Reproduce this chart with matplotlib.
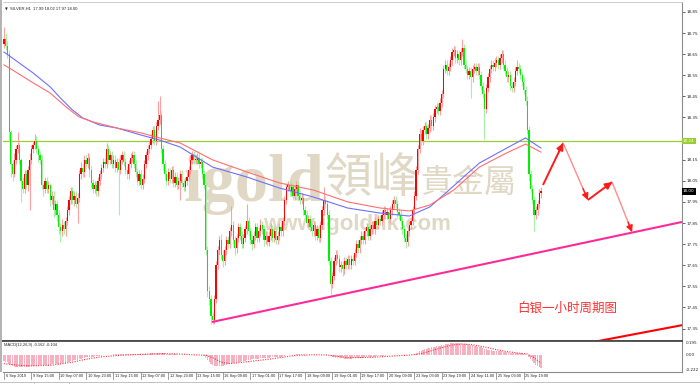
import numpy as np
import matplotlib
matplotlib.use("Agg")
import matplotlib.pyplot as plt
from matplotlib.transforms import blended_transform_factory, offset_copy
from matplotlib.patches import Rectangle
from matplotlib.lines import Line2D

# ---------------- data ----------------
header = "SILVER,H1  17.99 18.02 17.97 18.00"
macd_title = "MACD(12,26,9) -0.162 -0.104"
caption = "白银一小时周期图"

first_open = 18.70
closes = [
    18.72, 18.69, 18.65, 18.28, 18.13, 18.08, 18.15, 18.20, 18.22, 18.15, 18.05, 18.01, 18.08, 18.03, 18.10, 18.15,
    18.20, 18.22, 18.24, 18.20, 18.17, 18.15, 18.03, 18.01, 18.05, 18.01, 18.03, 17.96, 17.98, 17.91, 17.94, 17.89,
    17.83, 17.81, 17.84, 17.82, 17.86, 17.91, 17.96, 18.00, 17.96, 17.98, 17.94, 17.97, 18.08, 18.11, 18.09, 18.15,
    18.13, 18.16, 18.10, 18.04, 18.01, 18.03, 18.00, 18.05, 18.08, 18.11, 18.14, 18.13, 18.20, 18.15, 18.17, 18.13,
    18.15, 18.11, 18.14, 18.10, 18.15, 18.17, 18.14, 18.10, 18.08, 18.13, 18.16, 18.17, 18.13, 18.09, 18.05, 18.08,
    18.03, 18.06, 18.13, 18.17, 18.20, 18.22, 18.25, 18.29, 18.24, 18.31, 18.34, 18.36, 18.20, 18.13, 18.08, 18.05,
    18.09, 18.06, 18.10, 18.04, 18.07, 18.03, 18.05, 18.08, 18.04, 18.02, 18.05, 18.07, 18.10, 18.15, 18.17, 18.15,
    18.15, 18.16, 18.13, 18.14, 18.08, 18.03, 17.72, 17.53, 17.49, 17.41, 17.39, 17.49, 17.65, 17.72, 17.77, 17.70,
    17.67, 17.72, 17.77, 17.75, 17.81, 17.84, 17.77, 17.73, 17.78, 17.83, 17.79, 17.75, 17.78, 17.82, 17.86, 17.81,
    17.77, 17.75, 17.79, 17.83, 17.78, 17.81, 17.84, 17.82, 17.77, 17.79, 17.76, 17.79, 17.82, 17.78, 17.81, 17.77,
    17.79, 17.83, 17.81, 17.86, 17.96, 18.02, 18.03, 18.00, 18.02, 17.98, 18.01, 18.03, 17.98, 17.96, 17.97, 17.91,
    17.89, 17.85, 17.87, 17.83, 17.81, 17.84, 17.79, 17.82, 17.78, 17.84, 17.91, 17.96, 17.94, 17.89, 17.67, 17.56,
    17.60, 17.67, 17.70, 17.68, 17.64, 17.65, 17.63, 17.67, 17.65, 17.68, 17.65, 17.68, 17.67, 17.71, 17.75, 17.73,
    17.77, 17.79, 17.77, 17.81, 17.83, 17.79, 17.82, 17.84, 17.82, 17.86, 17.84, 17.87, 17.86, 17.89, 17.91, 17.89,
    17.90, 17.87, 17.91, 17.94, 17.96, 17.94, 17.90, 17.89, 17.86, 17.82, 17.78, 17.76, 17.81, 17.84, 17.86, 17.91,
    17.98, 18.10, 18.20, 18.27, 18.24, 18.29, 18.31, 18.27, 18.30, 18.34, 18.31, 18.35, 18.39, 18.40, 18.38, 18.42,
    18.46, 18.58, 18.60, 18.57, 18.59, 18.62, 18.66, 18.67, 18.63, 18.65, 18.62, 18.66, 18.68, 18.60, 18.58, 18.55,
    18.57, 18.54, 18.58, 18.59, 18.57, 18.59, 18.55, 18.50, 18.46, 18.39, 18.49, 18.54, 18.58, 18.60, 18.59, 18.61,
    18.62, 18.60, 18.63, 18.65, 18.60, 18.57, 18.54, 18.55, 18.50, 18.49, 18.52, 18.57, 18.59, 18.58, 18.55, 18.52,
    18.48, 18.43, 18.29, 18.08, 18.01, 17.96, 17.89, 17.91, 17.94, 17.99, 18.00,
]

# upper / lower shadow lengths, in cents
wick_up = [
    6, 3, 2, 2, 1, 2, 3, 2, 6, 1, 1, 2, 2, 2, 2, 3,
    2, 2, 3, 2, 2, 2, 2, 1, 2, 2, 2, 1, 2, 2, 2, 2,
    2, 2, 3, 2, 2, 2, 2, 2, 2, 2, 2, 2, 2, 3, 2, 2,
    2, 2, 2, 2, 2, 2, 2, 2, 2, 2, 2, 2, 3, 2, 2, 2,
    2, 2, 2, 2, 2, 2, 2, 2, 2, 2, 2, 2, 2, 2, 2, 2,
    2, 2, 2, 2, 2, 2, 2, 2, 2, 2, 9, 9, 2, 2, 2, 2,
    2, 2, 2, 2, 2, 2, 2, 2, 2, 2, 2, 2, 2, 2, 2, 2,
    2, 2, 2, 2, 2, 2, 1, 2, 2, 2, 2, 2, 2, 2, 2, 3,
    2, 2, 2, 2, 2, 9, 2, 2, 2, 2, 2, 2, 2, 2, 8, 2,
    2, 3, 2, 2, 2, 2, 3, 2, 2, 2, 2, 2, 3, 2, 2, 2,
    2, 2, 2, 2, 2, 2, 2, 2, 2, 2, 2, 2, 2, 2, 2, 2,
    2, 2, 2, 2, 2, 2, 2, 2, 2, 2, 2, 6, 2, 2, 2, 2,
    2, 2, 2, 2, 2, 2, 2, 2, 2, 2, 2, 2, 2, 2, 2, 2,
    2, 2, 2, 2, 2, 2, 2, 2, 2, 2, 2, 2, 2, 2, 2, 2,
    2, 2, 2, 2, 2, 2, 2, 2, 2, 2, 2, 2, 2, 2, 2, 2,
    2, 2, 2, 3, 2, 2, 2, 2, 2, 2, 2, 2, 2, 2, 2, 2,
    2, 2, 2, 2, 2, 2, 2, 2, 2, 2, 2, 2, 4, 2, 2, 2,
    2, 2, 2, 2, 2, 2, 2, 2, 2, 2, 2, 2, 2, 2, 2, 2,
    2, 2, 2, 2, 2, 2, 2, 2, 2, 2, 2, 2, 3, 2, 2, 2,
    2, 2, 2, 2, 2, 2, 2, 2, 2, 2, 2,
]
wick_dn = [
    2, 2, 2, 4, 6, 3, 1, 2, 2, 2, 10, 2, 2, 2, 3, 19,
    2, 2, 2, 2, 3, 2, 2, 3, 2, 2, 2, 3, 2, 3, 2, 3,
    3, 5, 2, 2, 3, 2, 2, 2, 2, 3, 2, 9, 2, 2, 2, 2,
    2, 2, 3, 2, 2, 2, 2, 2, 2, 2, 2, 2, 2, 2, 2, 2,
    2, 2, 2, 21, 2, 2, 2, 2, 2, 2, 2, 2, 2, 2, 2, 2,
    2, 2, 2, 2, 2, 2, 2, 2, 2, 2, 2, 2, 2, 3, 2, 2,
    2, 2, 2, 2, 2, 2, 2, 9, 2, 2, 2, 2, 2, 2, 2, 2,
    2, 2, 2, 2, 2, 2, 2, 3, 3, 4, 2, 2, 2, 2, 2, 2,
    3, 2, 2, 2, 2, 2, 2, 3, 2, 2, 2, 2, 2, 2, 2, 2,
    2, 3, 2, 2, 2, 2, 2, 2, 3, 2, 2, 2, 2, 2, 2, 2,
    2, 2, 2, 2, 2, 2, 2, 2, 2, 2, 2, 2, 2, 2, 2, 2,
    2, 2, 2, 2, 2, 2, 2, 2, 2, 2, 2, 2, 2, 2, 2, 6,
    2, 2, 2, 2, 2, 2, 3, 2, 2, 2, 2, 2, 2, 2, 2, 2,
    2, 2, 2, 2, 2, 2, 2, 2, 2, 2, 2, 2, 2, 2, 2, 2,
    2, 2, 2, 2, 2, 2, 2, 2, 2, 2, 2, 3, 2, 2, 2, 2,
    2, 2, 2, 2, 2, 2, 2, 2, 2, 2, 2, 2, 2, 2, 2, 2,
    2, 2, 2, 2, 2, 2, 2, 2, 2, 2, 2, 2, 2, 2, 2, 2,
    2, 10, 2, 2, 2, 2, 2, 2, 2, 14, 2, 2, 2, 2, 2, 2,
    2, 2, 2, 2, 2, 2, 2, 2, 2, 2, 2, 2, 2, 2, 2, 2,
    2, 2, 2, 3, 2, 2, 8, 2, 2, 2, 2,
]

# moving averages (bar index, price)
ma_blue_bars = [0, 17, 27, 33, 40, 46, 56, 66, 80, 91, 103, 122, 142, 161, 181, 201, 220, 237, 249, 259, 270, 278, 294, 305, 314]
ma_blue = [18.660, 18.561, 18.495, 18.442, 18.386, 18.348, 18.314, 18.300, 18.267, 18.243, 18.210, 18.115, 18.068,
           18.016, 17.973, 17.921, 17.897, 17.883, 17.926, 17.997, 18.077, 18.134, 18.205, 18.253, 18.205]
ma_red_bars = [0, 5, 17, 27, 37, 44, 52, 66, 80, 91, 103, 122, 142, 161, 181, 201, 220, 237, 249, 263, 278, 294, 305, 314]
ma_red = [18.599, 18.575, 18.514, 18.466, 18.395, 18.352, 18.329, 18.300, 18.277, 18.253, 18.229, 18.149, 18.092,
          18.040, 18.006, 17.950, 17.921, 17.907, 17.935, 18.006, 18.115, 18.182, 18.224, 18.186]

# MACD histogram per bar and signal line (bar index, value)
macd_hist = [
    -0.08, -0.085, -0.09, -0.11, -0.13, -0.145, -0.15, -0.152, -0.155, -0.155, -0.158, -0.16, -0.16, -0.158, -0.155, -0.152,
    -0.148, -0.142, -0.138, -0.135, -0.132, -0.13, -0.132, -0.133, -0.13, -0.128, -0.125, -0.122, -0.12, -0.118, -0.115, -0.112,
    -0.11, -0.108, -0.105, -0.1, -0.095, -0.09, -0.085, -0.078, -0.072, -0.066, -0.06, -0.055, -0.048, -0.042, -0.036, -0.03,
    -0.025, -0.02, -0.018, -0.016, -0.015, -0.013, -0.01, -0.008, -0.005, -0.002, 0.0, 0.003, 0.006, 0.008, 0.01, 0.012,
    0.014, 0.015, 0.016, 0.017, 0.018, 0.019, 0.02, 0.02, 0.021, 0.021, 0.022, 0.022, 0.021, 0.02, 0.02, 0.019,
    0.018, 0.018, 0.02, 0.022, 0.024, 0.026, 0.028, 0.03, 0.032, 0.033, 0.034, 0.035, 0.033, 0.03, 0.028, 0.026,
    0.024, 0.022, 0.02, 0.018, 0.016, 0.014, 0.012, 0.01, 0.008, 0.006, 0.005, 0.004, 0.004, 0.005, 0.006, 0.006,
    0.006, 0.006, 0.005, 0.004, 0.002, -0.002, -0.03, -0.06, -0.085, -0.11, -0.13, -0.14, -0.145, -0.145, -0.142, -0.14,
    -0.135, -0.13, -0.125, -0.12, -0.114, -0.108, -0.103, -0.098, -0.093, -0.088, -0.083, -0.078, -0.073, -0.068, -0.064, -0.06,
    -0.056, -0.053, -0.05, -0.047, -0.044, -0.041, -0.038, -0.036, -0.034, -0.032, -0.03, -0.028, -0.026, -0.024, -0.022, -0.02,
    -0.018, -0.016, -0.014, -0.01, -0.005, 0.0, 0.004, 0.007, 0.009, 0.011, 0.013, 0.014, 0.015, 0.015, 0.015, 0.014,
    0.013, 0.012, 0.011, 0.01, 0.009, 0.008, 0.007, 0.006, 0.005, 0.005, 0.006, 0.008, 0.009, 0.009, 0.0, -0.012,
    -0.02, -0.026, -0.03, -0.033, -0.036, -0.038, -0.04, -0.041, -0.042, -0.042, -0.042, -0.041, -0.04, -0.038, -0.036, -0.034,
    -0.032, -0.03, -0.028, -0.026, -0.024, -0.022, -0.02, -0.018, -0.016, -0.014, -0.012, -0.01, -0.008, -0.006, -0.004, -0.002,
    0.0, 0.002, 0.004, 0.006, 0.008, 0.009, 0.01, 0.01, 0.009, 0.007, 0.004, 0.002, 0.003, 0.005, 0.007, 0.01,
    0.015, 0.025, 0.04, 0.055, 0.065, 0.075, 0.085, 0.092, 0.1, 0.106, 0.11, 0.115, 0.12, 0.123, 0.126, 0.13,
    0.135, 0.142, 0.148, 0.153, 0.158, 0.162, 0.166, 0.168, 0.168, 0.167, 0.165, 0.163, 0.161, 0.158, 0.154, 0.149,
    0.144, 0.14, 0.135, 0.13, 0.125, 0.12, 0.115, 0.108, 0.1, 0.092, 0.085, 0.08, 0.075, 0.07, 0.066, 0.063,
    0.06, 0.058, 0.056, 0.055, 0.053, 0.05, 0.047, 0.044, 0.04, 0.037, 0.035, 0.034, 0.033, 0.032, 0.03, 0.028,
    0.025, 0.02, 0.005, -0.02, -0.05, -0.08, -0.105, -0.125, -0.14, -0.152, -0.162,
]
signal_bars = [0, 8, 16, 28, 40, 48, 56, 66, 80, 92, 103, 112, 118, 122, 127, 132, 140, 155, 170, 181, 188, 195,
               201, 215, 225, 237, 245, 255, 262, 268, 274, 282, 292, 300, 306, 310, 314]
signal_vals = [-0.11, -0.13, -0.14, -0.13, -0.09, -0.05, -0.02, 0.0, 0.015, 0.025, 0.02, 0.008, 0.004, -0.03, -0.09,
               -0.11, -0.09, -0.05, 0.0, 0.01, 0.008, -0.01, -0.03, -0.025, -0.01, 0.005, 0.03, 0.1, 0.14, 0.155,
               0.145, 0.11, 0.06, 0.035, 0.02, -0.03, -0.104]

time_labels = ["6 Sep 2019", "9 Sep 15:00", "10 Sep 07:00", "10 Sep 23:00", "11 Sep 15:00", "12 Sep 07:00",
               "12 Sep 23:00", "13 Sep 15:00", "16 Sep 09:00", "17 Sep 01:00", "17 Sep 17:00", "18 Sep 09:00",
               "19 Sep 01:00", "19 Sep 17:00", "20 Sep 09:00", "23 Sep 03:00", "23 Sep 19:00", "24 Sep 11:00",
               "25 Sep 03:00", "25 Sep 19:00"]
bars_per_label = 16

price_ticks = [18.85, 18.75, 18.65, 18.55, 18.45, 18.35, 18.15, 18.05, 17.95,
               17.85, 17.75, 17.65, 17.55, 17.45, 17.35]
resistance = 18.24

# drawn trend lines and projected path (bar index, price)
support_bars = [121.6, 396.5]
support_prices = [17.381, 17.855]
lower_bars = [347.0, 396.5]
lower_prices = [17.290, 17.366]
path_bars = [315.2, 327.0, 341.5, 355.6, 367.3]
path_prices = [18.03, 18.229, 17.959, 18.044, 17.807]

macd_top, macd_bottom = 0.195, -0.222

# ---------------- figure ----------------
W, H = 700, 384
fig = plt.figure(figsize=(W / 100, H / 100), dpi=100)
fig.patch.set_facecolor("white")

def fx(px):
    return px / W

def fy(py):
    return 1 - py / H

L, R = 3, 682
main_top, main_bot, macd_bot = 2, 341, 372
ax = fig.add_axes([fx(L), fy(main_bot), fx(R - L), (main_bot - main_top) / H])
ax2 = fig.add_axes([fx(L), fy(macd_bot), fx(R - L), (macd_bot - main_bot) / H])

xmin, xmax = -0.585, 396.5
ax.set_xlim(xmin, xmax)
ax.set_ylim(17.291, 18.897)
ax2.set_xlim(xmin, xmax)
ax2.set_ylim(macd_bottom, macd_top)

closes_a = np.array(closes)
opens_a = np.r_[first_open, closes_a[:-1]]
n = len(closes_a)
x = np.arange(n)
highs = np.maximum(opens_a, closes_a) + np.array(wick_up) / 100.0
lows = np.minimum(opens_a, closes_a) - np.array(wick_dn) / 100.0
rising = closes_a >= opens_a

# watermark
wm = "#e0d8c4"
ax.text(0.2651, 0.414, "igold", transform=ax.transAxes, fontsize=48, family="Liberation Serif",
        weight="bold", color=wm, ha="left", va="baseline", zorder=0.5)
ax.text(0.5435, 0.478, "領峰", transform=ax.transAxes, fontsize=34, family="Noto Sans CJK TC",
        color=wm, ha="center", va="center", zorder=0.5)
ax.text(0.6848, 0.466, "貴金屬", transform=ax.transAxes, fontsize=23, family="Noto Sans CJK TC",
        color=wm, ha="center", va="center", zorder=0.5)
ax.text(0.5214, 0.327, "www.igoldhk.com", transform=ax.transAxes, fontsize=16, family="Liberation Sans",
        weight="bold", color=wm, ha="center", va="baseline", zorder=0.5)

# candles
wick_cols = np.where(rising, "#ffa0a0", "#a6f0a6")
body_cols = np.where(rising, "#ff0000", "#00ee00")
ax.vlines(x, lows, highs, colors=wick_cols, lw=0.8, zorder=3)
body_h = np.maximum(np.abs(closes_a - opens_a), 0.004)
ax.bar(x, body_h, bottom=np.minimum(opens_a, closes_a), width=0.72, color=body_cols, lw=0, zorder=4)

# moving averages
ax.plot(ma_blue_bars, ma_blue, color="#6f6fff", lw=0.8, zorder=5)
ax.plot(ma_red_bars, ma_red, color="#ff6f6f", lw=0.8, zorder=5)

# horizontal level
ax.axhline(resistance, color="#9acd32", lw=0.9, zorder=2)

# trend lines
ax.plot(support_bars, support_prices, color="#ff2a9a", lw=1.5, zorder=6, solid_capstyle="butt")
ax.plot(lower_bars, lower_prices, color="#ff0000", lw=1.5, zorder=6)

# projected path: rising legs solid red, falling legs lighter
for i in range(len(path_bars) - 1):
    x0, y0 = path_bars[i], path_prices[i]
    x1, y1 = path_bars[i + 1], path_prices[i + 1]
    up_leg = y1 > y0
    col = "#ff1a1a" if up_leg else "#ff8c8c"
    lw = 1.4 if up_leg else 1.0
    ax.plot([x0, x1], [y0, y1], color=col, lw=lw, zorder=7, solid_capstyle="butt")
    sx = x0 + 0.8 * (x1 - x0)
    sy = y0 + 0.8 * (y1 - y0)
    ax.annotate("", xy=(x1, y1), xytext=(sx, sy),
                arrowprops=dict(arrowstyle="-|>,head_length=0.55,head_width=0.28", color="#ff1a1a",
                                lw=lw, shrinkA=0, shrinkB=0, mutation_scale=7), zorder=8)

# price axis
ax.yaxis.tick_right()
ax.set_yticks(price_ticks)
ax.set_yticklabels([f"{p:.2f}" for p in price_ticks])
ax.tick_params(axis="y", length=2, width=0.5, labelsize=3.0, pad=1.2, colors="#222222")
ax.set_xticks([])

ytrans = blended_transform_factory(ax.transAxes, ax.transData)
ax.text(1.0015, resistance, f"{resistance:.2f}", transform=ytrans, fontsize=3.0, color="white",
        ha="left", va="center", zorder=20, clip_on=False,
        bbox=dict(boxstyle="square,pad=0.25", fc="#9acd32", ec="none"))
ax.text(1.0015, closes[-1], f"{closes[-1]:.2f}", transform=ytrans, fontsize=3.0, color="white",
        ha="left", va="center", zorder=20, clip_on=False,
        bbox=dict(boxstyle="square,pad=0.3", fc="black", ec="none"))

ax.spines["left"].set_visible(False)
ax.spines["top"].set_color("#c8c8c8")
ax.spines["top"].set_linewidth(0.6)
ax.spines["right"].set_color("#8c8c8c")
ax.spines["right"].set_linewidth(0.8)
ax.spines["bottom"].set_color("#4a4a4a")
ax.spines["bottom"].set_linewidth(1.3)

# header
ax.text(0.0035, 0.985, "\u25bc", transform=ax.transAxes, fontsize=2.6, color="#333333",
        ha="left", va="top", family="DejaVu Sans")
ax.text(0.011, 0.987, header, transform=ax.transAxes, fontsize=3.0, color="#222222",
        ha="left", va="top", family="Liberation Sans")

# caption, placed in figure pixels
fig.text(fx(567), fy(308), caption, fontsize=9, color="#ff3030",
         family=["Noto Sans CJK SC", "DejaVu Sans"], ha="center", va="center", zorder=9)

# ---------------- MACD panel ----------------
hist = np.array(macd_hist)
ax2.bar(x, hist, width=0.75, color="#f7b0c0", lw=0, zorder=2)
ax2.plot(signal_bars, signal_vals, color="#ff3040", lw=0.8, ls=(0, (1, 1.2)), zorder=3)
ax2.set_xticks([])
ax2.set_yticks([])
ax2.spines["left"].set_visible(False)
ax2.spines["top"].set_color("#4a4a4a")
ax2.spines["top"].set_linewidth(1.3)
ax2.spines["right"].set_color("#8c8c8c")
ax2.spines["right"].set_linewidth(0.8)
ax2.spines["bottom"].set_color("#8c8c8c")
ax2.spines["bottom"].set_linewidth(0.8)

ax2.text(0.0015, 0.93, macd_title, transform=ax2.transAxes, fontsize=2.9, color="#222222",
         ha="left", va="top", family="Liberation Sans")
y2trans = blended_transform_factory(ax2.transAxes, ax2.transData)
ax2.text(1.006, macd_top, f"{macd_top:.3f}", transform=y2trans, fontsize=3.0, color="#222222",
         ha="left", va="top", clip_on=False)
ax2.text(1.006, 0.0, "0.00", transform=y2trans, fontsize=3.0, color="#222222",
         ha="left", va="center", clip_on=False)
ax2.text(1.006, macd_bottom, f"{macd_bottom:.3f}", transform=y2trans, fontsize=3.0, color="#222222",
         ha="left", va="bottom", clip_on=False)

# time axis labels
xtrans = blended_transform_factory(ax2.transData, ax2.transAxes)
lab_trans = offset_copy(xtrans, fig=fig, x=1.6, y=0, units="dots")
for k, lab in enumerate(time_labels):
    b = k * bars_per_label
    ax2.add_line(Line2D([b, b], [0, -0.22], transform=xtrans, color="#7a7a7a", lw=0.5, clip_on=False))
    ax2.text(b, -0.13, lab, transform=lab_trans, fontsize=2.8, color="#222222", ha="left", va="center",
             family="Liberation Sans", clip_on=False)

# window frame details
fig.patches.append(Rectangle((0, fy(macd_bot)), fx(2), 1 - fy(macd_bot), transform=fig.transFigure,
                             color="#b4b4b4", lw=0))
fig.lines.append(Line2D([0, 1], [fy(381.5), fy(381.5)], transform=fig.transFigure, color="#b8b8b8", lw=0.6))
fig.lines.append(Line2D([fx(34), fx(34)], [fy(381.5), 0], transform=fig.transFigure, color="#b8b8b8", lw=0.6))
fig.lines.append(Line2D([fx(69), fx(69)], [fy(381.5), 0], transform=fig.transFigure, color="#b8b8b8", lw=0.6))

fig.savefig("out.png", dpi=100)
